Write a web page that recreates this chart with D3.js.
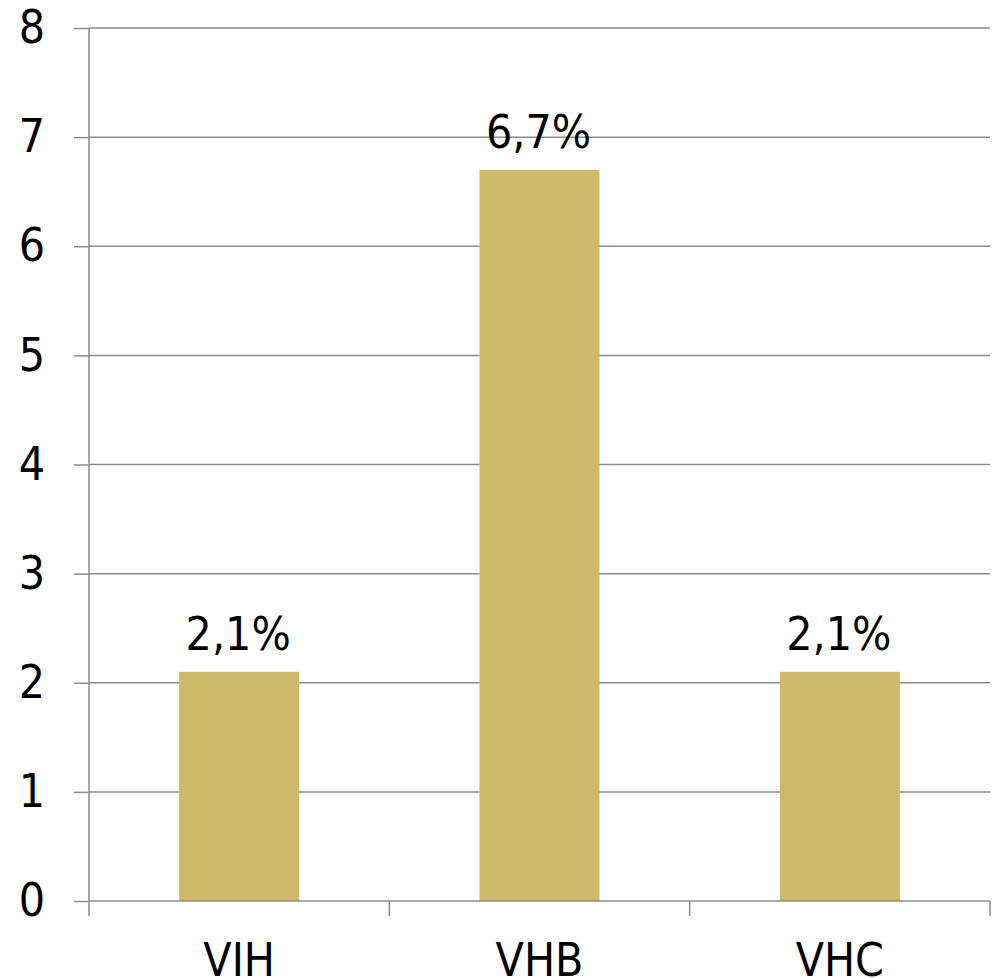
<!DOCTYPE html>
<html><head><meta charset="utf-8">
<script src="https://cdn.jsdelivr.net/npm/d3@7"></script>
<style>body{margin:0;background:#fff}svg{display:block}</style>
</head><body>
<script>
const categories = ["VIH", "VHB", "VHC"];
const values = [2.1, 6.7, 2.1];
const valueLabels = ["2,1%", "6,7%", "2,1%"];
const yTicks = [0, 1, 2, 3, 4, 5, 6, 7, 8];

const W = 994, H = 979;
const mLeft = 89, mRight = 990, mTop = 28, mBottom = 901;
const font = "'DejaVu Sans Condensed', 'DejaVu Sans', sans-serif";
const fs = 46;
const svg = d3.select("body").append("svg").attr("width", W).attr("height", H);

const xOuter = d3.scaleBand().domain(categories).range([mLeft, mRight]);
const y = d3.scaleLinear().domain([0, 8]).range([mBottom, mTop]);

// gridlines
svg.append("g").selectAll("line").data(yTicks.filter(d => d > 0)).join("line")
  .attr("x1", mLeft).attr("x2", mRight).attr("y1", d => y(d)).attr("y2", d => y(d))
  .attr("stroke", "#8c8c8c").attr("stroke-width", 1.5);

// bars
const bw = 120;
svg.append("g").selectAll("rect").data(values).join("rect")
  .attr("x", (d, i) => xOuter(categories[i]) + xOuter.bandwidth() / 2 - bw / 2)
  .attr("width", bw)
  .attr("y", d => y(d)).attr("height", d => y(0) - y(d))
  .attr("fill", "#cdb967");

// y axis
const yAxis = svg.append("g").attr("transform", `translate(${mLeft},0)`)
  .call(d3.axisLeft(y).tickValues(yTicks).tickSize(15).tickPadding(29));
yAxis.select(".domain").attr("stroke", "#8c8c8c").attr("stroke-width", 1.5).attr("d", `M0,${mTop}V${mBottom}`);
yAxis.selectAll(".tick line").attr("stroke", "#8c8c8c").attr("stroke-width", 1.5);
yAxis.selectAll(".tick text").attr("font-family", font).attr("font-size", fs).attr("fill", "#000");

// x axis
const xg = svg.append("g").attr("transform", `translate(0,${mBottom})`);
xg.append("line").attr("x1", mLeft).attr("x2", mRight).attr("stroke", "#8c8c8c").attr("stroke-width", 1.5);
const xt = [mLeft, ...categories.map(c => xOuter(c) + xOuter.bandwidth())];
xg.selectAll("line.t").data(xt).join("line").attr("class", "t")
  .attr("x1", d => d).attr("x2", d => d).attr("y1", 0).attr("y2", 15)
  .attr("stroke", "#8c8c8c").attr("stroke-width", 1.5);
xg.selectAll("text").data(categories).join("text")
  .attr("x", d => xOuter(d) + xOuter.bandwidth() / 2).attr("y", 75)
  .attr("text-anchor", "middle").attr("font-family", font).attr("font-size", fs).attr("fill", "#000")
  .text(d => d);

// value labels
svg.append("g").selectAll("text").data(values).join("text")
  .attr("x", (d, i) => xOuter(categories[i]) + xOuter.bandwidth() / 2 - 1)
  .attr("y", d => y(d) - 22)
  .attr("text-anchor", "middle").attr("font-family", font).attr("font-size", fs).attr("fill", "#000")
  .text((d, i) => valueLabels[i]);
</script>
</body></html>
